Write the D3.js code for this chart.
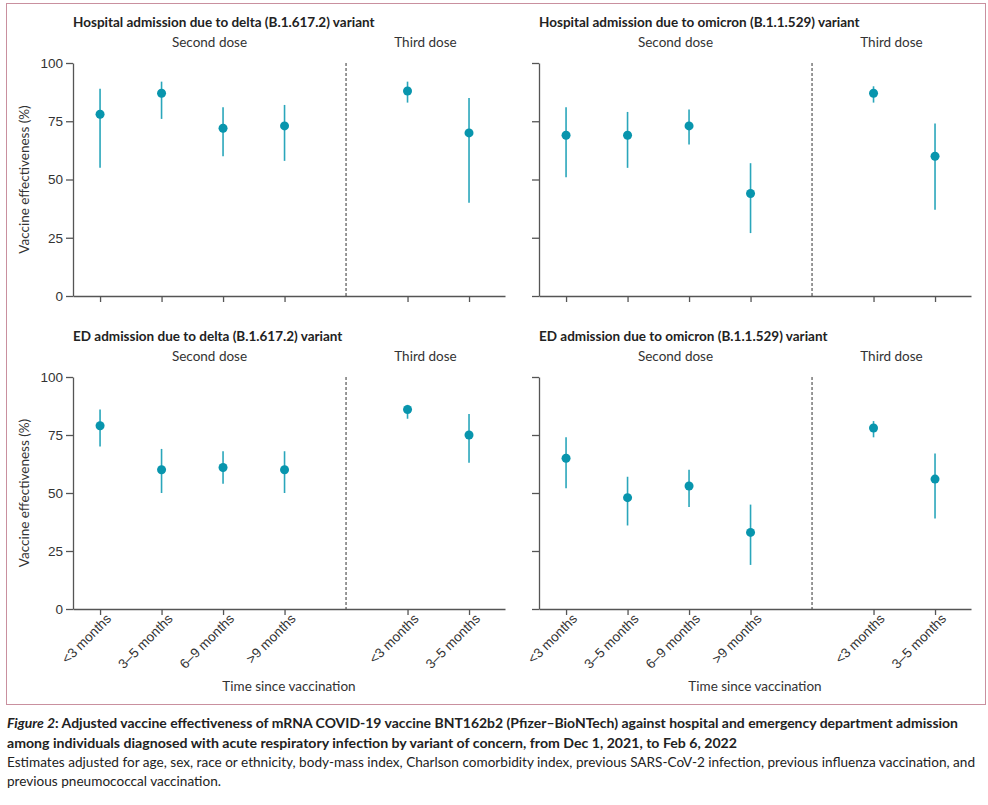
<!DOCTYPE html>
<html>
<head>
<meta charset="utf-8">
<script src="https://cdn.jsdelivr.net/npm/d3@7"></script>
<style>
  body { margin: 0; background: #fff; }
  svg { display: block; font-family: Lato, "Noto Sans", sans-serif; }
</style>
</head>
<body>
<svg id="fig" width="988" height="805"></svg>
<script>
// categories on the x axis (slot 4 is the gap between doses)
const categories = ["<3 months", "3–5 months", "6–9 months", ">9 months", "<3 months", "3–5 months"];
const slots = [0, 1, 2, 3, 5, 6];
const doses = ["Second dose", "Third dose"];
const yTicks = [0, 25, 50, 75, 100];

const titles = [
  "Hospital admission due to delta (B.1.617.2) variant",
  "Hospital admission due to omicron (B.1.1.529) variant",
  "ED admission due to delta (B.1.617.2) variant",
  "ED admission due to omicron (B.1.1.529) variant"
];

// vaccine effectiveness (%) with 95% CI
const hospDeltaVE = [78, 87, 72, 73, 88, 70];
const hospDeltaLo = [55, 76, 60, 58, 83, 40];
const hospDeltaHi = [89, 92, 81, 82, 92, 85];

const hospOmicronVE = [69, 69, 73, 44, 87, 60];
const hospOmicronLo = [51, 55, 65, 27, 83, 37];
const hospOmicronHi = [81, 79, 80, 57, 90, 74];

const edDeltaVE = [79, 60, 61, 60, 86, 75];
const edDeltaLo = [70, 50, 54, 50, 82, 63];
const edDeltaHi = [86, 69, 68, 68, 88, 84];

const edOmicronVE = [65, 48, 53, 33, 78, 56];
const edOmicronLo = [52, 36, 44, 19, 74, 39];
const edOmicronHi = [74, 57, 60, 45, 81, 67];

const panelData = [
  [hospDeltaVE, hospDeltaLo, hospDeltaHi],
  [hospOmicronVE, hospOmicronLo, hospOmicronHi],
  [edDeltaVE, edDeltaLo, edDeltaHi],
  [edOmicronVE, edOmicronLo, edOmicronHi]
];

const svg = d3.select("#fig");
const teal = "#0895ad";
const axisCol = "#555";

// outer frame
svg.append("rect")
  .attr("x", 6.5).attr("y", 3.5).attr("width", 979).attr("height", 701)
  .attr("fill", "none").attr("stroke", "#c9909f").attr("stroke-width", 1);

const layout = [
  { x0: 73, y0: 63, h: 233, left: true, bottom: false },
  { x0: 539, y0: 63, h: 233, left: false, bottom: false },
  { x0: 73, y0: 377, h: 232, left: true, bottom: true },
  { x0: 539, y0: 377, h: 232, left: false, bottom: true }
];
const W = 432;

layout.forEach(function(p, i) {
  const g = svg.append("g");
  const x = d3.scaleLinear().domain([-0.44, 6.585]).range([p.x0, p.x0 + W]);
  const y = d3.scaleLinear().domain([0, 100]).range([p.y0 + p.h, p.y0]);

  // title and dose labels
  g.append("text")
    .attr("x", p.x0).attr("y", p.y0 - 36)
    .attr("font-size", 13.5).attr("font-weight", "bold").attr("fill", "#222")
    .text(titles[i]);
  g.append("text")
    .attr("x", (p.x0 + x(4)) / 2).attr("y", p.y0 - 16)
    .attr("text-anchor", "middle").attr("font-size", 13.5).attr("fill", "#333")
    .text(doses[0]);
  g.append("text")
    .attr("x", (x(4) + p.x0 + W) / 2).attr("y", p.y0 - 16)
    .attr("text-anchor", "middle").attr("font-size", 13.5).attr("fill", "#333")
    .text(doses[1]);

  // y axis
  const ya = g.append("g")
    .attr("transform", "translate(" + p.x0 + ",0)")
    .call(d3.axisLeft(y).tickValues(yTicks).tickSize(7).tickSizeOuter(0).tickPadding(3)
      .tickFormat(p.left ? d3.format("d") : ""));
  ya.selectAll("text").attr("font-size", 13.5).attr("fill", "#333").attr("font-family", null);

  // x axis
  const xa = g.append("g")
    .attr("transform", "translate(0," + (p.y0 + p.h) + ")")
    .call(d3.axisBottom(x).tickValues(slots).tickSize(6).tickSizeOuter(0)
      .tickFormat(function(d, j) { return p.bottom ? categories[j] : ""; }));
  xa.selectAll("text")
    .attr("font-size", 13.5).attr("fill", "#333").attr("font-family", null)
    .attr("text-anchor", "end")
    .attr("transform", "translate(4,3) rotate(-45)")
    .attr("dy", "0.35em").attr("y", 6);

  g.selectAll(".domain, .tick line").attr("stroke", axisCol).attr("stroke-width", 1.3);

  // separator between doses
  g.append("line")
    .attr("x1", x(4)).attr("x2", x(4))
    .attr("y1", p.y0).attr("y2", p.y0 + p.h)
    .attr("stroke", "#333").attr("stroke-width", 1)
    .attr("stroke-dasharray", "3,2");

  if (p.left) {
    g.append("text")
      .attr("transform", "translate(29," + (p.y0 + p.h / 2) + ") rotate(-90)")
      .attr("text-anchor", "middle").attr("font-size", 13.5).attr("fill", "#333")
      .text("Vaccine effectiveness (%)");
  }
  if (p.bottom) {
    g.append("text")
      .attr("x", p.x0 + W / 2).attr("y", p.y0 + p.h + 82)
      .attr("text-anchor", "middle").attr("font-size", 13.5).attr("fill", "#333")
      .text("Time since vaccination");
  }

  const [ve, lo, hi] = panelData[i];
  const rows = slots.map(function(s, j) { return { s: s, ve: ve[j], lo: lo[j], hi: hi[j] }; });

  g.selectAll(".ci").data(rows).enter().append("line")
    .attr("class", "ci")
    .attr("x1", d => x(d.s)).attr("x2", d => x(d.s))
    .attr("y1", d => y(d.lo)).attr("y2", d => y(d.hi))
    .attr("stroke", "#2aa6bb").attr("stroke-width", 1.6);

  g.selectAll(".pt").data(rows).enter().append("circle")
    .attr("class", "pt")
    .attr("cx", d => x(d.s)).attr("cy", d => y(d.ve))
    .attr("r", 4.5).attr("fill", teal);
});

// caption, each line fitted to the width it has in the figure
const cap = svg.append("g").attr("fill", "#222");
const l1 = cap.append("text").attr("x", 7).attr("y", 728).attr("font-weight", "bold")
  .attr("font-size", 13.6)
  .attr("textLength", 951).attr("lengthAdjust", "spacingAndGlyphs");
l1.append("tspan").attr("font-style", "italic").text("Figure 2");
l1.append("tspan").text(": Adjusted vaccine effectiveness of mRNA COVID-19 vaccine BNT162b2 (Pfizer–BioNTech) against hospital and emergency department admission");
cap.append("text").attr("x", 7).attr("y", 748).attr("font-weight", "bold")
  .attr("font-size", 13.6)
  .attr("textLength", 730).attr("lengthAdjust", "spacingAndGlyphs")
  .text("among individuals diagnosed with acute respiratory infection by variant of concern, from Dec 1, 2021, to Feb 6, 2022");
cap.append("text").attr("x", 7).attr("y", 767)
  .attr("font-size", 13.2)
  .attr("textLength", 968).attr("lengthAdjust", "spacingAndGlyphs")
  .text("Estimates adjusted for age, sex, race or ethnicity, body-mass index, Charlson comorbidity index, previous SARS-CoV-2 infection, previous influenza vaccination, and");
cap.append("text").attr("x", 7).attr("y", 786)
  .attr("font-size", 13.2)
  .attr("textLength", 214).attr("lengthAdjust", "spacingAndGlyphs")
  .text("previous pneumococcal vaccination.");
</script>
</body>
</html>
